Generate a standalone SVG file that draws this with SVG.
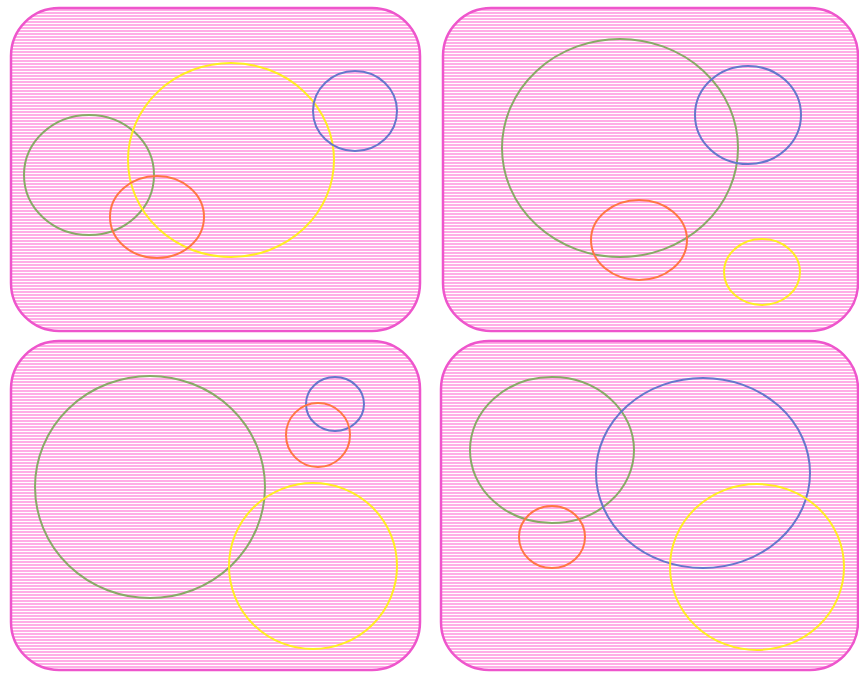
<svg xmlns="http://www.w3.org/2000/svg" width="859" height="673" viewBox="0 0 859 673">
<defs>
<pattern id="hatch" patternUnits="userSpaceOnUse" width="8" height="3">
<rect width="8" height="3" fill="#ffffff"/>
<rect width="8" height="2" fill="#ffaee6"/>
</pattern>
<style>
.panel{fill:url(#hatch);stroke:#ee55cc;stroke-width:2.5}
ellipse{fill:none;stroke-width:2}
.g{stroke:#88aa66}.b{stroke:#6677cc}.o{stroke:#ff7744}.y{stroke:#ffee22}
</style>
</defs>
<rect width="859" height="673" fill="#ffffff"/>
<g id="panel1">
<rect class="panel" x="11" y="8" width="409" height="323" rx="48"/>
<ellipse class="g" cx="89" cy="175" rx="65" ry="60"/>
<ellipse class="y" cx="231" cy="160" rx="103" ry="97"/>
<ellipse class="b" cx="355" cy="111" rx="42" ry="40"/>
<ellipse class="o" cx="157" cy="217" rx="47" ry="41"/>
</g>
<g id="panel2">
<rect class="panel" x="443" y="8" width="415" height="323" rx="48"/>
<ellipse class="g" cx="620" cy="148" rx="118" ry="109"/>
<ellipse class="b" cx="748" cy="115" rx="53" ry="49"/>
<ellipse class="o" cx="639" cy="240" rx="48" ry="40"/>
<ellipse class="y" cx="762" cy="272" rx="38" ry="33"/>
</g>
<g id="panel3">
<rect class="panel" x="11" y="341" width="409" height="329" rx="48"/>
<ellipse class="g" cx="150" cy="487" rx="115" ry="111"/>
<ellipse class="b" cx="335" cy="404" rx="29" ry="27"/>
<ellipse class="o" cx="318" cy="435" rx="32" ry="32"/>
<ellipse class="y" cx="313" cy="566" rx="84" ry="83"/>
</g>
<g id="panel4">
<rect class="panel" x="441" y="341" width="417" height="329" rx="48"/>
<ellipse class="g" cx="552" cy="450" rx="82" ry="73"/>
<ellipse class="b" cx="703" cy="473" rx="107" ry="95"/>
<ellipse class="o" cx="552" cy="537" rx="33" ry="31"/>
<ellipse class="y" cx="757" cy="567" rx="87" ry="83"/>
</g>
<g id="connectors"/>
</svg>
